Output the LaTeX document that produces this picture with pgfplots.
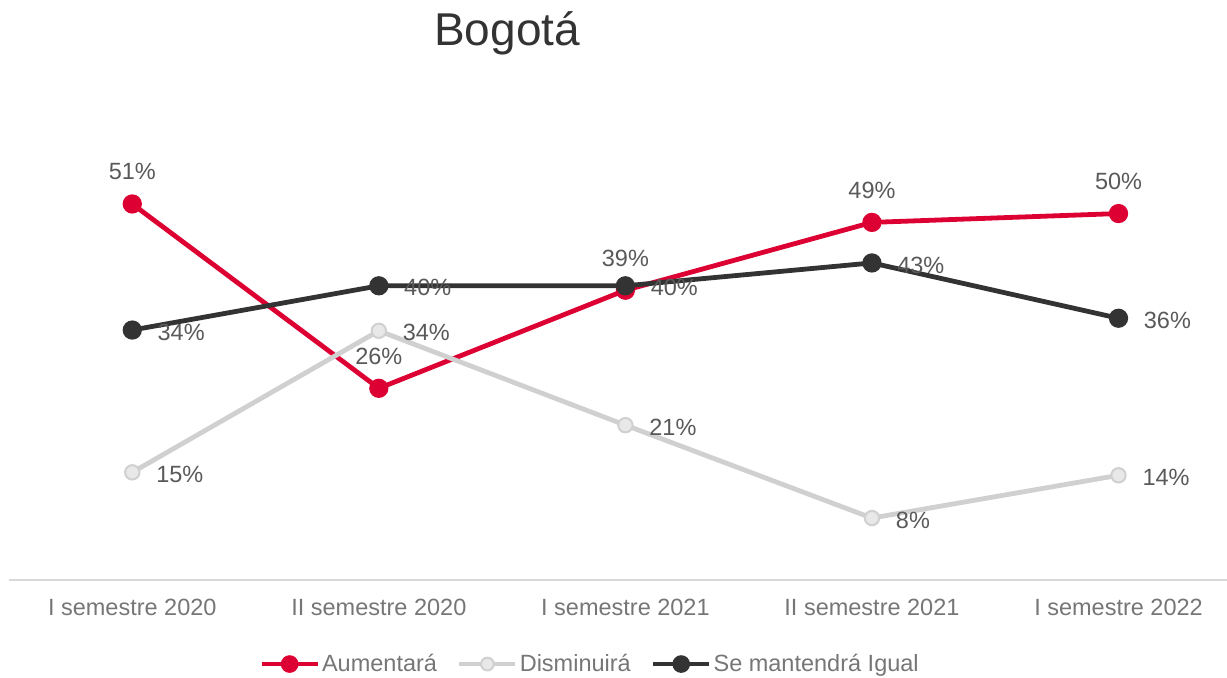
\documentclass[border=0pt]{standalone}
\usepackage{fontspec}
\setmainfont{Liberation Sans}
\usepackage{pgfplots}
\pgfplotsset{compat=1.18}

\definecolor{rojo}{RGB}{221,0,50}
\definecolor{grisclaro}{RGB}{208,208,208}
\definecolor{grisfill}{RGB}{232,232,232}
\definecolor{oscuro}{RGB}{51,51,51}
\definecolor{etiqueta}{RGB}{89,89,89}
\definecolor{eje}{RGB}{217,217,217}
\definecolor{texto}{RGB}{118,118,118}

\newcommand{\lbl}{\fontsize{11.75pt}{14pt}\selectfont}

\begin{document}
\begin{tikzpicture}
\path[use as bounding box] (-4.5pt,-49pt) rectangle (609pt,290pt);
\begin{axis}[
    width=609pt, height=221.2pt, scale only axis,
    xmin=-0.5, xmax=4.44, ymin=0, ymax=60,
    clip=false,
    axis x line=bottom, axis y line=none,
    x axis line style={eje, line width=0.8pt, -},
    xtick={0,1,2,3,4},
    xticklabels={I semestre 2020, II semestre 2020, I semestre 2021, II semestre 2021, I semestre 2022},
    major tick length=0pt,
    xticklabel style={font=\lbl, text=texto, anchor=base, yshift=-18pt},
    ytick=\empty,
    point meta=explicit symbolic,
    nodes near coords={\pgfplotspointmeta\%},
    every node near coord/.append style={font=\lbl, text=etiqueta, inner sep=0pt},
    title={Bogotá},
    title style={font=\fontsize{23pt}{27pt}\selectfont, text=oscuro, anchor=base, at={(0.409,1.18)}},
    legend columns=3,
    legend style={draw=none, fill=none, font=\lbl, text=texto,
        at={(0.477,-0.19)}, anchor=center,
        nodes={inner sep=1pt},
        /tikz/every even column/.append style={column sep=9pt}},
    legend image code/.code={\draw[#1, mark size=3.2pt, mark repeat=2, mark phase=2]
        plot coordinates {(0pt,0pt) (14pt,0pt) (28pt,0pt)};},
]
\addplot[rojo, line width=2.4pt, mark=*, mark size=3.6pt,
    every node near coord/.append style={anchor=base, yshift=12pt}]
    coordinates {(0,51)[51] (1,26)[26] (2,39.3)[39] (3,48.5)[49] (4,49.7)[50]};
\addlegendentry{Aumentará}

\addplot[grisclaro, line width=2.4pt, mark=*, mark size=3.6pt,
    mark options={fill=grisfill, draw=grisclaro, line width=1pt},
    every node near coord/.append style={anchor=west, xshift=11.5pt, yshift=-1pt}]
    coordinates {(0,14.6)[15] (1,33.8)[34] (2,21)[21] (3,8.4)[8] (4,14.2)[14]};
\addlegendentry{Disminuirá}

\addplot[oscuro, line width=2.4pt, mark=*, mark size=3.6pt,
    every node near coord/.append style={anchor=west, xshift=11.5pt, yshift=-1pt}]
    coordinates {(0,33.9)[34] (1,39.9)[40] (2,39.9)[40] (3,43)[43] (4,35.5)[36]};
\addlegendentry{Se mantendrá Igual}
\end{axis}
\end{tikzpicture}
\end{document}
